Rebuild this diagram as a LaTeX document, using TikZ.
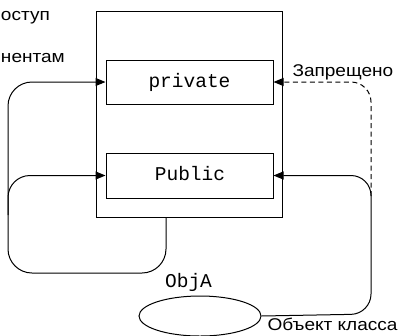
\documentclass[tikz,border=0pt]{standalone}
\usepackage{fontspec}
\usetikzlibrary{arrows.meta,shapes.geometric}
\newfontfamily\sanslab[FakeStretch=1.12]{Liberation Sans}
\newfontfamily\monolab{Liberation Mono}
\begin{document}
\begin{tikzpicture}[x=1pt,y=-1pt,
  line width=1pt,
  box/.style={draw, rectangle, inner sep=0pt},
  mtext/.style={font=\monolab\fontsize{19.5}{20}\selectfont, inner sep=0pt},
  stext/.style={font=\sanslab\fontsize{17}{19}\selectfont, inner sep=0pt},
  arr/.style={-{Triangle[length=10pt,width=8pt]}},
  dsh/.style={dash pattern=on 5pt off 3.5pt}]
\useasboundingbox (0,0) rectangle (398,335);
\node[box, minimum width=186pt, minimum height=206pt] (outer) at (189,114) {};
\node[box, minimum width=167pt, minimum height=44pt] (priv) at (189.5,82) {};
\node[box, minimum width=167pt, minimum height=45pt] (pub) at (189.5,175.5) {};
\node[mtext, anchor=base] (privt) at (189.5,87) {private};
\node[mtext, anchor=base] (pubt) at (190,180) {Public};
\node[draw, ellipse, minimum width=122pt, minimum height=40pt, inner sep=0pt] (obj) at (200,316) {};
\node[mtext, anchor=base] (objt) at (188.5,287) {ObjA};
\node[stext, anchor=base west] (t1) at (0.5,20) {оступ};
\node[stext, anchor=base west] (t2) at (0.5,62) {нентам};
\node[stext, anchor=base west] (t3) at (292,76) {Запрещено};
\node[stext, anchor=base west] (t4) at (267,330) {Объект класса};
\coordinate (ls) at (166,217);
\coordinate (lbr) at (166,273);
\coordinate (lbl) at (8,273);
\coordinate (ltl) at (8,82);
\coordinate (lbranch) at (8,215);
\coordinate (lpub) at (8,175.5);
\coordinate (rbr) at (371,314);
\coordinate (rtr) at (371,175.5);
\coordinate (dstart) at (371,196);
\coordinate (dtop) at (371,82);
\draw[arr, rounded corners=24pt] (ls) -- (lbr) -- (lbl) -- (ltl) -- (priv.west);
\draw[arr, rounded corners=22pt] (lbranch) -- (lpub) -- (pub.west);
\draw[arr, rounded corners=20pt] (obj.east) -- (rbr) -- (rtr) -- (pub.east);
\draw[arr, dsh, rounded corners=20pt] (dstart) -- (dtop) -- (priv.east);
\end{tikzpicture}
\end{document}
